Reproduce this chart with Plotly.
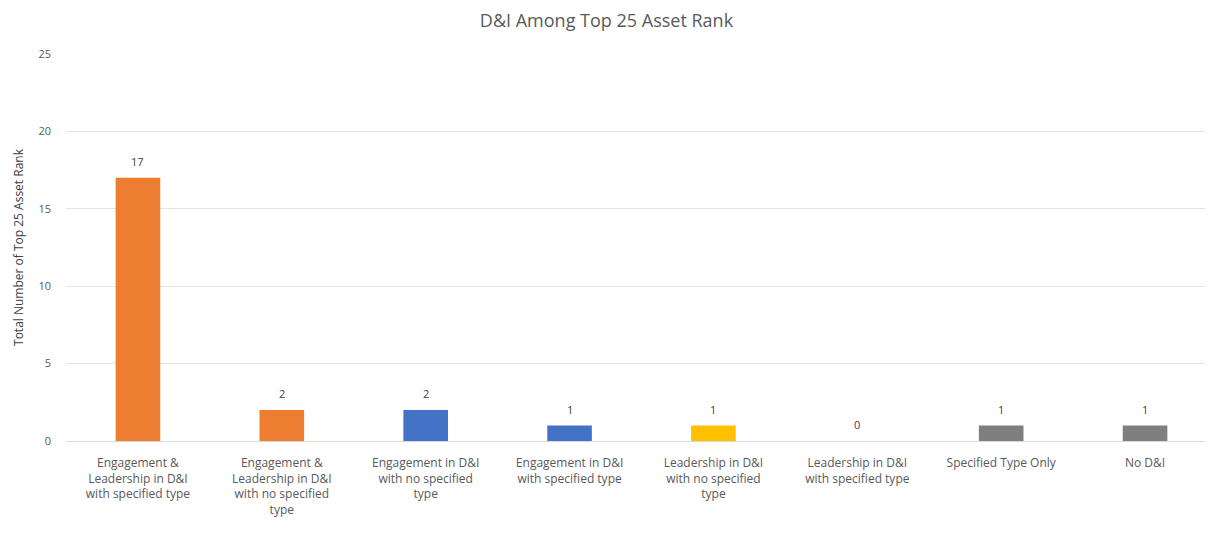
import plotly.graph_objects as go

categories = [
    "Engagement &<br>Leadership in D&I<br>with specified type",
    "Engagement &<br>Leadership in D&I<br>with no specified<br>type",
    "Engagement in D&I<br>with no specified<br>type",
    "Engagement in D&I<br>with specified type",
    "Leadership in D&I<br>with no specified<br>type",
    "Leadership in D&I<br>with specified type",
    "Specified Type Only",
    "No D&I",
]
counts = [17, 2, 2, 1, 1, 0, 1, 1]
bar_colors = ["#ED7D31", "#ED7D31", "#4472C4", "#4472C4",
              "#FFC000", "#FFC000", "#7F7F7F", "#7F7F7F"]
y_ticks = [0, 5, 10, 15, 20, 25]

font_family = "Open Sans, Liberation Sans, sans-serif"
grey_text = "#595959"

fig = go.Figure(go.Bar(
    x=categories,
    y=counts,
    marker=dict(color=bar_colors, line=dict(width=0)),
    width=0.31,
    hoverinfo="x+y",
))

# value labels a little above each bar, as in the Excel original
for cat, v in zip(categories, counts):
    fig.add_annotation(
        x=cat, y=v, text=str(v), showarrow=False,
        yanchor="bottom", yshift=7,
        font=dict(size=11, color="#404040", family=font_family),
    )

fig.update_layout(
    width=1213,
    height=533,
    paper_bgcolor="white",
    plot_bgcolor="white",
    margin=dict(l=58, r=4, t=46, b=100, autoexpand=False),
    title=dict(text="D&I Among Top 25 Asset Rank", x=0.4934, xanchor="center",
               y=0.977, yanchor="middle",
               font=dict(size=18, color=grey_text, family=font_family)),
    showlegend=False,
    font=dict(family=font_family, color=grey_text),
)

fig.update_yaxes(
    range=[0, 25],
    tickvals=y_ticks,
    showgrid=True,
    gridcolor="#E4E4E4",
    gridwidth=1,
    zeroline=True,
    zerolinecolor="#D9D9D9",
    zerolinewidth=1,
    showline=False,
    ticks="",
    ticklabelstandoff=14,
    tickfont=dict(size=11, color=grey_text),
    title=dict(text="Total Number of Top 25 Asset Rank", standoff=12,
               font=dict(size=12, color="#404040")),
)

fig.update_xaxes(
    showgrid=False,
    showline=False,
    ticks="",
    tickangle=0,
    ticklabelstandoff=13,
    tickfont=dict(size=12, color=grey_text),
)

fig.write_html("out.html")
